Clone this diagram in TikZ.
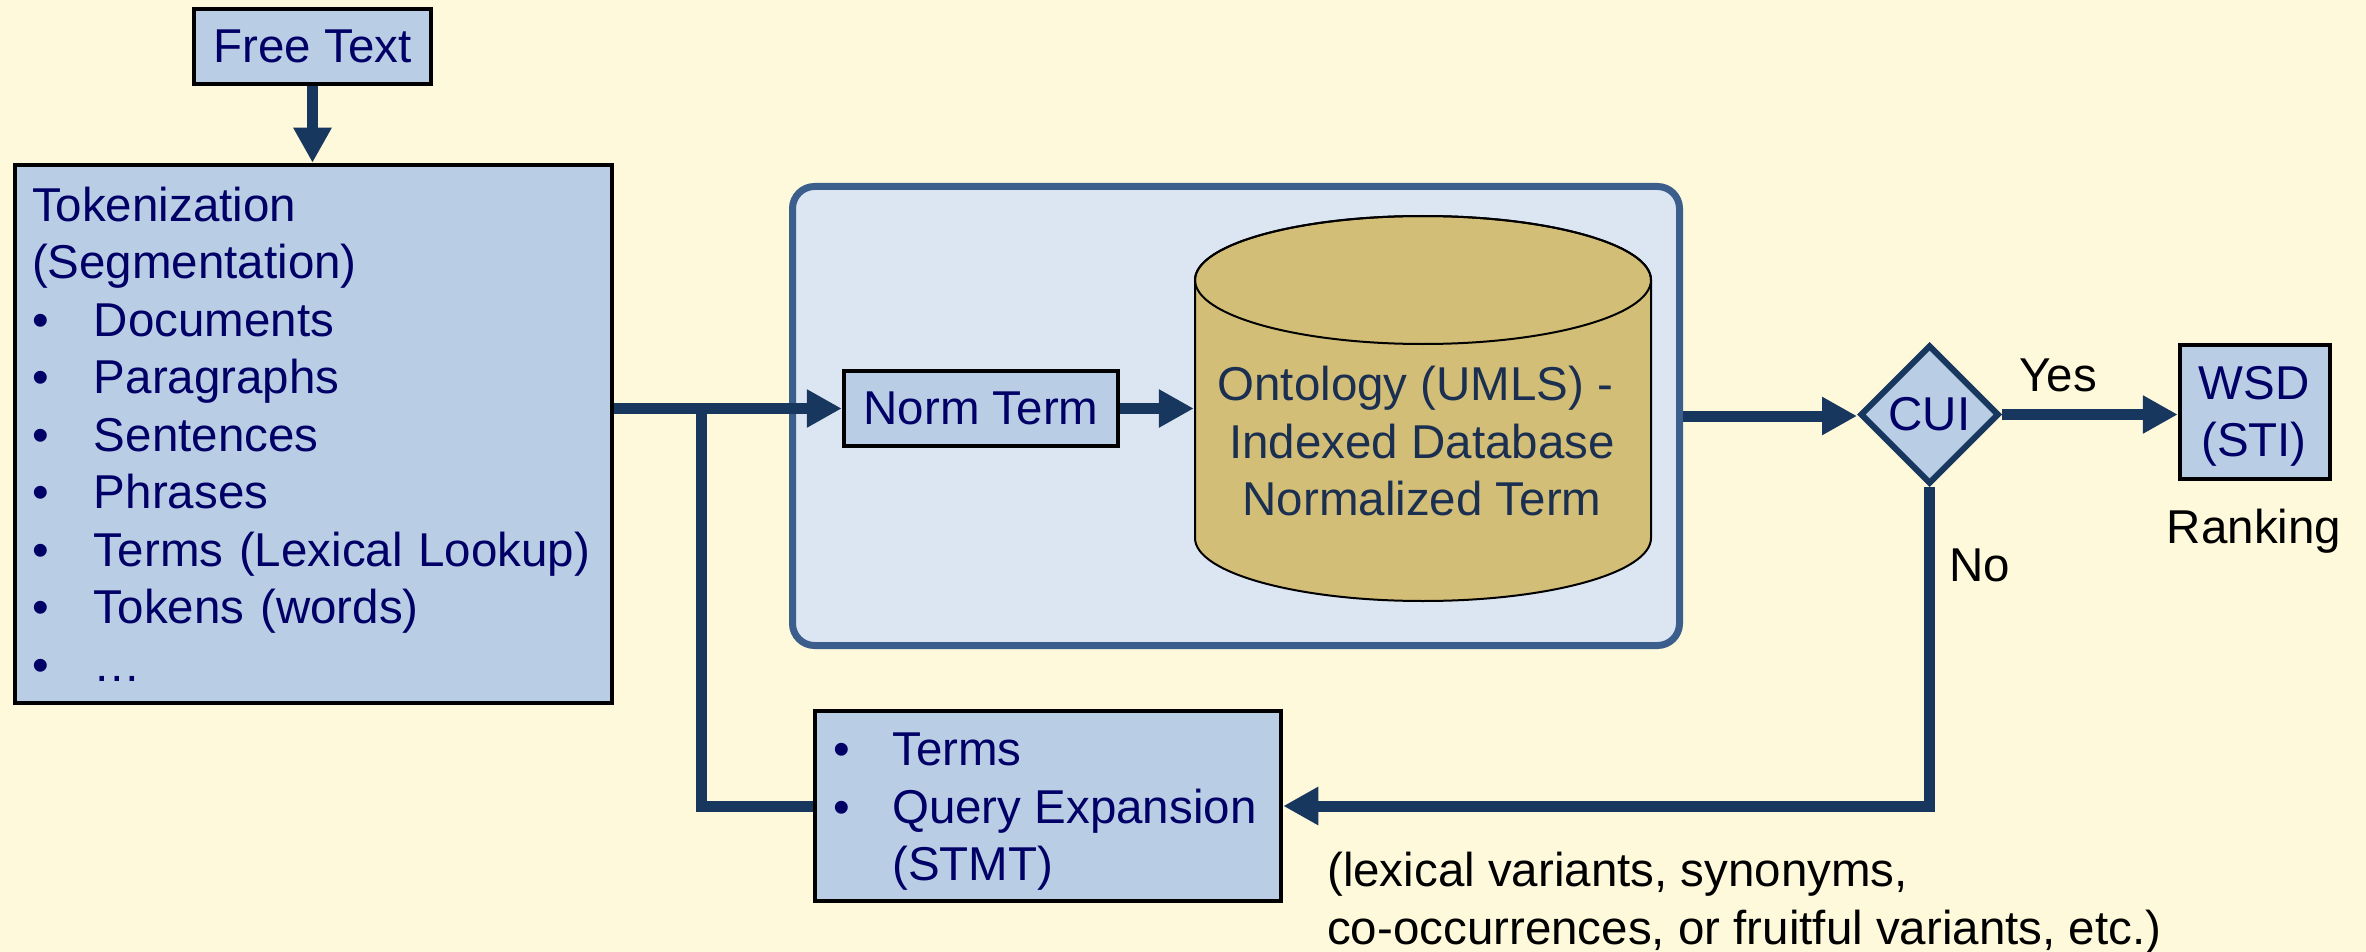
\documentclass[tikz,border=0pt]{standalone}
\usepackage{fontspec}
\setmainfont{Liberation Sans}
\usetikzlibrary{arrows.meta,shapes.geometric}
\definecolor{bgc}{HTML}{FFF9DC}
\definecolor{boxfill}{HTML}{B9CDE5}
\definecolor{contfill}{HTML}{DCE6F2}
\definecolor{contline}{HTML}{3B5E8C}
\definecolor{cylfill}{HTML}{D3BE78}
\definecolor{navytext}{HTML}{000066}
\definecolor{dbtextc}{HTML}{1B2F50}
\definecolor{flowc}{HTML}{17375E}
\newcommand{\tokbul}{\makebox[62pt][l]{•}}
\newcommand{\stmtbul}{\makebox[59pt][l]{•}}
\begin{document}
\begin{tikzpicture}[x=1pt,y=-1pt,
  every node/.style={inner sep=0pt, font=\fontsize{47.5}{57.5}\selectfont},
  box/.style={draw=black, line width=4.5pt, fill=boxfill, text=navytext},
  boxtext/.style={text=navytext},
  flowline/.style={draw=flowc, line width=11pt},
  flow/.style={flowline, -{Triangle[length=35pt,width=36pt]}},
  lbl/.style={text=black}]
\useasboundingbox (0,0) rectangle (2366,952);
\fill[bgc] (0,0) rectangle (2366,952);

% container
\node[draw=contline, line width=7pt, fill=contfill, rounded corners=22pt,
      minimum width=887pt, minimum height=459pt] (cont) at (1236,416) {};

% cylinder
\filldraw[fill=cylfill, draw=black, line width=2pt]
  (1195,280) -- (1195,538) arc[start angle=180, end angle=360, x radius=228pt, y radius=63pt]
  -- (1651,280) arc[start angle=0, end angle=180, x radius=228pt, y radius=64pt] -- cycle;
\draw[black, line width=2pt] (1423,280) ellipse[x radius=228pt, y radius=64pt];
\node[minimum width=458pt, minimum height=385pt] (db) at (1423,408.5) {};
\node[anchor=north, align=center, text=dbtextc] (dbtxt) at (1422,366)
  {Ontology (UMLS) -\kern13pt\\Indexed Database\\Normalized Term};

% boxes
\node[box, minimum width=237pt, minimum height=75pt] (free) at (312.5,46.5) {Free Text};
\node[box, minimum width=597pt, minimum height=538pt, text width=563pt, align=left]
  (tok) at (313.5,434)
  {Tokenization\\(Segmentation)\\\tokbul Documents\\\tokbul Paragraphs\\\tokbul Sentences\\\tokbul Phrases\\\tokbul Terms (Lexical Lookup)\\\tokbul Tokens (words)\\\tokbul …};
\node[box, minimum width=274pt, minimum height=75pt] (norm) at (981,408.5) {Norm Term};
\node[box, minimum width=466pt, minimum height=190pt] (stmt) at (1048,806) {};
\node[boxtext, anchor=north west, align=left] (stmttxt) at (833,733)
  {\stmtbul Terms\\\stmtbul Query Expansion\\\hspace*{59pt}(STMT)};
\node[diamond, aspect=1, draw=flowc, line width=6pt, fill=boxfill, text=navytext,
      minimum width=139pt, minimum height=139pt] (cui) at (1929.5,414.5) {CUI};
\node[box, minimum width=150pt, minimum height=134pt] (wsd) at (2255,412) {};
\node[boxtext, anchor=north, align=center] (wsdtxt) at (2254,366) {WSD\\(STI)};

% labels
\node[lbl, anchor=base] (yes) at (2058,391) {Yes};
\node[lbl, anchor=base west] (no) at (1949,581) {No};
\node[lbl, anchor=base] (rank) at (2254,543) {Ranking};
\node[lbl, anchor=north west, align=left] (note) at (1327,852)
  {(lexical variants, synonyms,\\co-occurrences, or fruitful variants, etc.)};

% connectors
\coordinate (branch) at (701,408.5);
\draw[flow] (free.south) -- (free.south |- tok.north);
\draw[flow] (norm.west -| tok.east) -- (norm.west);
\draw[flowline] (branch) |- (stmt.west);
\draw[flow] (norm.east) -- (db.west);
\draw[flow] (cont.east) -- (cont.east -| cui.west);
\draw[flow] (cui.east) -- (cui.east -| wsd.west);
\draw[flow] (cui.south) |- (stmt.east);
\end{tikzpicture}
\end{document}
